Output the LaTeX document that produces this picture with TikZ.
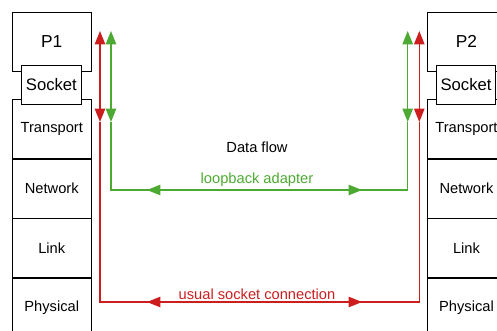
\documentclass[tikz,border=0pt]{standalone}
\usepackage{fontspec}
\setmainfont{Liberation Sans}
\usetikzlibrary{arrows.meta}
\definecolor{flowgreen}{RGB}{76,170,50}
\definecolor{flowred}{RGB}{204,30,30}
\begin{document}
\begin{tikzpicture}[x=0.75pt,y=-0.75pt,
  >={Triangle[length=10pt,width=7.8pt]},
  box/.style={draw, line width=0.75pt, inner sep=0pt, minimum width=58.9pt, fill=white},
  layer/.style={box, minimum height=44.6pt, font=\fontsize{11}{13}\selectfont},
  proc/.style={box, minimum height=44pt, font=\fontsize{13}{15}\selectfont},
  sock/.style={box, minimum width=44.8pt, minimum height=29.25pt, font=\fontsize{12.5}{15}\selectfont},
  lbl/.style={font=\fontsize{11}{13}\selectfont, inner sep=0pt},
  gline/.style={flowgreen, line width=0.9pt},
  rline/.style={flowred, line width=0.9pt}]
\useasboundingbox (0,0) rectangle (497,330);
\clip (0,0) rectangle (497,330);
% left host
\node[proc, anchor=north west] (p1) at (12,12) {P1};
\node[layer, anchor=north west] (t1) at (12,99) {Transport};
\node[layer, anchor=north west] (n1) at (12,158.5) {Network};
\node[layer, anchor=north west] (l1) at (12,218) {Link};
\node[layer, anchor=north west] (ph1) at (12,277.5) {Physical};
\node[sock, anchor=north west] (s1) at (21,65) {Socket};
% right host
\node[proc, anchor=north west] (p2) at (426.7,12) {P2};
\node[layer, anchor=north west] (t2) at (426.7,99) {Transport};
\node[layer, anchor=north west] (n2) at (426.7,158.5) {Network};
\node[layer, anchor=north west] (l2) at (426.7,218) {Link};
\node[layer, anchor=north west] (ph2) at (426.7,277.5) {Physical};
\node[sock, anchor=north west] (s2) at (435.7,65) {Socket};
% labels
\node[lbl] (df) at (257,147) {Data flow};
\node[lbl, text=flowgreen] (lb) at (257,180) {loopback adapter};
\node[lbl, text=flowred] (usc) at (257,294) {usual socket connection};
% coordinates
\coordinate (lrT) at (100,31);
\coordinate (lrB) at (100,122);
\coordinate (lrC) at (100,302);
\coordinate (lgT) at (111,31);
\coordinate (lgB) at (111,122);
\coordinate (lgC) at (111,190);
\coordinate (rgT) at (407.7,31);
\coordinate (rgB) at (407.7,122);
\coordinate (rgC) at (407.7,190);
\coordinate (rrT) at (419.3,31);
\coordinate (rrB) at (419.3,122);
\coordinate (rrC) at (419.3,302);
\coordinate (gA) at (147,190);
\coordinate (gB) at (362,190);
\coordinate (rA) at (147,302);
\coordinate (rB) at (362,302);
% green loopback
\draw[gline] (lgB) -- (lgC) -- (rgC) -- (rgB);
\draw[gline, <->] (lgT) -- (lgB);
\draw[gline, <->] (rgT) -- (rgB);
\draw[gline, <->] (gA) -- (gB);
% red socket connection
\draw[rline] (lrB) -- (lrC) -- (rrC) -- (rrB);
\draw[rline, <->] (lrT) -- (lrB);
\draw[rline, <->] (rrT) -- (rrB);
\draw[rline, <->] (rA) -- (rB);
\end{tikzpicture}
\end{document}
